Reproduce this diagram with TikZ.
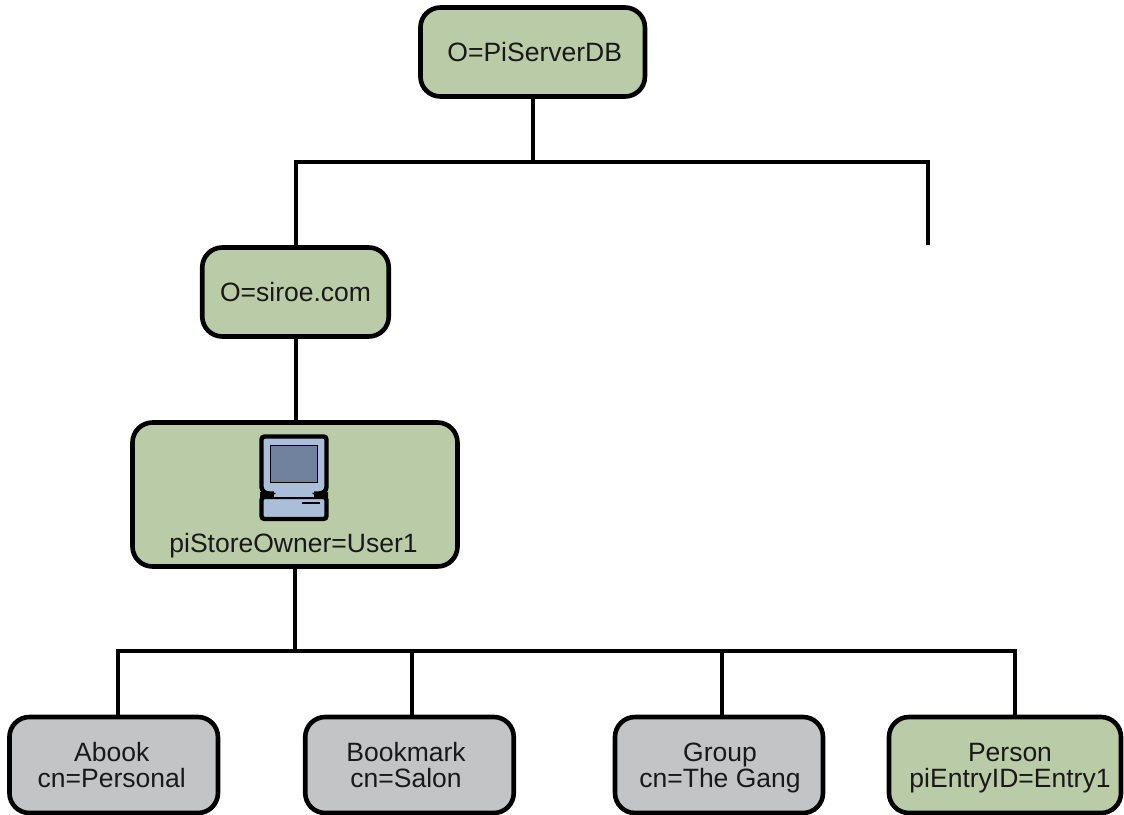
\documentclass[tikz,border=0pt]{standalone}
\usepackage{fontspec}
\setmainfont{Liberation Sans}
\definecolor{boxgreen}{RGB}{185,203,167}
\definecolor{boxgray}{RGB}{195,196,198}
\definecolor{pcblue}{RGB}{170,190,217}
\definecolor{pcscreen}{RGB}{112,130,157}
\newcommand{\hs}{\rule{0pt}{25pt}}
\newcommand{\ds}{\rule[-5.6pt]{0pt}{0pt}}
\newcommand{\shl}[2]{\mbox{\kern#1\relax #2\kern-#1\relax}}
\tikzset{
  x=1pt,y=-1pt,
  box/.style={draw=black,line width=4.6pt,rounded corners=20pt,align=center,text=black!90,font=\fontsize{26.5}{26.4}\selectfont,inner sep=0pt,anchor=center},
  greenbox/.style={box,fill=boxgreen},
  graybox/.style={box,fill=boxgray},
  wire/.style={draw=black,line width=4pt},
  pcpart/.style={draw=black,line width=4.4pt,fill=pcblue,rounded corners=3pt},
}
\begin{document}
\begin{tikzpicture}
\useasboundingbox (0,0) rectangle (1124,814);
\clip (0,0) rectangle (1124,814);
% nodes
\node[greenbox,minimum width=224.5pt,minimum height=89pt] (root) at (532.7,52) {\shl{2pt}{\hs O=PiServerDB\ds}};
\node[greenbox,minimum width=186.5pt,minimum height=89pt] (siroe) at (295.5,292) {O=siroe.com};
\node[greenbox,minimum width=325pt,minimum height=144pt] (owner) at (295,494.5) {};
\node[font=\fontsize{26.5}{26.4}\selectfont,text=black!90,inner sep=0pt,anchor=base] (ownerlabel) at (293.5,552.7) {piStoreOwner=User1};
\node[graybox,minimum width=208.5pt,minimum height=96pt] (abook) at (113.7,765) {\shl{-2pt}{\hs Abook}\\\shl{-2pt}{cn=Personal\ds}};
\node[graybox,minimum width=208.5pt,minimum height=96pt] (bookmark) at (409.5,765) {\shl{-3.5pt}{\hs Bookmark}\\\shl{-3.5pt}{cn=Salon\ds}};
\node[graybox,minimum width=208pt,minimum height=96pt] (group) at (719,765) {\shl{1pt}{\hs Group}\\\shl{1pt}{cn=The Gang\ds}};
\node[greenbox,minimum width=232pt,minimum height=96pt] (person) at (1005,765) {\shl{5pt}{\hs Person}\\\shl{5pt}{piEntryID=Entry1\ds}};
% junctions
\coordinate (rootbus) at (root.south |- 0,161.5);
\coordinate (busleft) at (siroe.north |- 0,161.5);
\coordinate (busright) at (928,161.5);
\coordinate (freeend) at (928,245);
\coordinate (ownerbus) at (owner.south |- 0,651);
\coordinate (busa) at (118,651);
\coordinate (busb) at (412,651);
\coordinate (busc) at (721.5,651);
\coordinate (busd) at (1015,651);
% connectors
\draw[wire] (root.south) -- (rootbus);
\draw[wire,line cap=rect] (busleft) -- (busright);
\draw[wire] (busleft) -- (siroe.north);
\draw[wire] (busright) -- (freeend);
\draw[wire] (siroe.south) -- (siroe.south |- owner.north);
\draw[wire] (owner.south) -- (ownerbus);
\draw[wire,line cap=rect] (busa) -- (busd);
\draw[wire] (busa) -- (busa |- abook.north);
\draw[wire] (busb) -- (busb |- bookmark.north);
\draw[wire] (busc) -- (busc |- group.north);
\draw[wire] (busd) -- (busd |- person.north);
% computer icon
\draw[pcpart] (261.5,436.5) -- (326.5,436.5) -- (326.5,490) -- (322,493.5) -- (266,493.5) -- (261.5,490) -- cycle;
\draw[pcpart] (261.5,497) -- (326.5,497) -- (326.5,519) -- (261.5,519) -- cycle;
\fill[pcblue] (274,490) rectangle (314,498);
\fill[black] (260,492) -- (276,493) -- (271,497) -- (260,497) -- cycle;
\fill[black] (328,492) -- (312,493) -- (317,497) -- (328,497) -- cycle;
\draw[black,line width=0.8pt] (270,497) -- (318,497);
\draw[black,line width=1pt,fill=pcscreen] (270.8,445.5) rectangle (317,482);
\draw[black,line width=2pt] (302,503.3) -- (320,503.3);
\end{tikzpicture}
\end{document}
